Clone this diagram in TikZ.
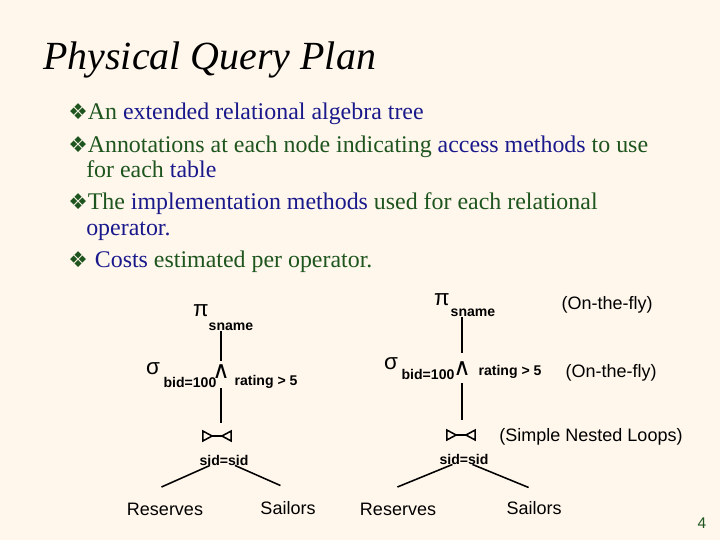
\documentclass[tikz,border=0pt]{standalone}
\usepackage{fontspec}
\setmainfont{Liberation Serif}
\newfontfamily\arialf{Liberation Sans}
\newfontfamily\dejavuf{DejaVu Sans}
\usepackage{xcolor}
\usepackage{tikz}
\usetikzlibrary{positioning,calc}
\definecolor{slidebg}{RGB}{255,247,236}
\definecolor{grn}{RGB}{30,85,30}
\definecolor{blu}{RGB}{25,25,140}
\newcommand{\gtxt}[1]{\textcolor{grn}{#1}}
\newcommand{\btxt}[1]{\textcolor{blu}{#1}}
\newcommand{\bul}{{\dejavuf\color{grn}\fontsize{15.5}{15.5}\selectfont ❖}}

\begin{document}
\begin{tikzpicture}[x=0.025cm, y=-0.025cm,
  title/.style={anchor=base west, inner sep=0pt, font=\fontsize{28.4}{30}\selectfont\itshape},
  body/.style={anchor=base west, inner sep=0pt, font=\fontsize{17}{20}\selectfont},
  op/.style={inner sep=0pt, font=\arialf\fontsize{16}{16}\selectfont},
  sub/.style={inner sep=0pt, font=\arialf\bfseries\fontsize{10}{12}\selectfont},
  lbl/.style={inner sep=0pt, font=\arialf\fontsize{12.8}{15}\selectfont},
  conj/.style={inner sep=0pt, font=\dejavuf\fontsize{17}{17}\selectfont},
  joinbox/.style={inner sep=0pt, minimum width=20pt, minimum height=7pt},
  edge/.style={line width=1.1pt},
  joinline/.style={line width=1.1pt, line join=miter}]
\fill[slidebg] (0,0) rectangle (720,540);
\useasboundingbox (0,0) rectangle (720,540);

% title and bullets
\node[title] (ttl) at (43,69) {Physical Query Plan};
\node[body] (b1) at (68,119) {\bul\gtxt{An} \btxt{extended relational algebra tree}};
\node[body] (b2) at (68,152) {\bul\gtxt{Annotations at each node indicating} \btxt{access methods} \gtxt{to use}};
\node[body] (b2a) at (86,177) {\gtxt{for each} \btxt{table}};
\node[body] (b3) at (68,209) {\bul\gtxt{The} \btxt{implementation methods} \gtxt{used for each relational}};
\node[body] (b3a) at (86,235) {\btxt{operator.}};
\node[body] (b4) at (68,267) {\bul\hspace{5pt}\btxt{Costs} \gtxt{estimated per operator.}};

% left tree
\node[op] (lpi) at (201,311) {π};
\node[sub] (lsname) at (231,327) {sname};
\node[op] (lsig) at (153,369) {σ};
\node[sub] (lbid) at (190,382) {bid=100};
\node[conj] (land) at (221,372) {∧};
\node[sub] (lrat) at (266,382) {rating > 5};
\node[joinbox] (ljoin) at (217,436) {};
\node[sub] (lsid) at (224,460) {sid=sid};
\node[lbl] (lres) at (165,509) {Reserves};
\node[lbl] (lsai) at (288,508) {Sailors};

\draw[edge, shorten >=3pt] (lsname.south -| land) -- (land.north);
\draw[edge, shorten <=6.4pt, shorten >=5.7pt] (land.south) -- (land.south |- ljoin.north);
\draw[edge, shorten >=27pt] ([xshift=-10pt]lsid.south) -- (lres.north west);
\draw[edge, shorten >=27.5pt] ([xshift=7.8pt]lsid.south) -- (lsai.north east);

% right tree
\node[op] (rpi) at (442,300) {π};
\node[sub] (rsname) at (473,313) {sname};
\node[op] (rsig) at (391,364) {σ};
\node[sub] (rbid) at (428,374) {bid=100};
\node[conj] (rand) at (462,369) {∧};
\node[sub] (rrat) at (510,372) {rating > 5};
\node[lbl] (rfly) at (607,305) {(On-the-fly)};
\node[lbl] (rfly2) at (611,373) {(On-the-fly)};
\node[joinbox] (rjoin) at (461,435) {};
\node[lbl] (rsnl) at (591,437) {(Simple Nested Loops)};
\node[sub] (rsid) at (464,459) {sid=sid};
\node[lbl] (rres) at (398,509) {Reserves};
\node[lbl] (rsai) at (534,508) {Sailors};

\draw[edge, shorten >=6pt] (rsname.south -| rand) -- (rand.north);
\draw[edge, shorten <=5pt, shorten >=7pt] (rand.south) -- (rand.south |- rjoin.north);
\draw[edge, shorten >=29pt] ([xshift=-8.2pt]rsid.south) -- (rres.north west);
\draw[edge, shorten >=25.5pt] ([xshift=6pt]rsid.south) -- (rsai.north east);

% join symbols
\foreach \j in {ljoin,rjoin} {
  \draw[joinline] ([shift={(-10pt,3.5pt)}]\j.center) -- ([shift={(-10pt,-3.5pt)}]\j.center)
    -- ([shift={(-3.5pt,0pt)}]\j.center) -- cycle;
  \draw[joinline] ([shift={(10pt,3.5pt)}]\j.center) -- ([shift={(10pt,-3.5pt)}]\j.center)
    -- ([shift={(3.5pt,0pt)}]\j.center) -- cycle;
  \draw[joinline] ([xshift=-3.5pt]\j.center) -- ([xshift=3.5pt]\j.center);
}

\node[inner sep=0pt, text=grn, font=\arialf\fontsize{11}{11}\selectfont] (pgnum) at (702,523) {4};
\end{tikzpicture}
\end{document}
